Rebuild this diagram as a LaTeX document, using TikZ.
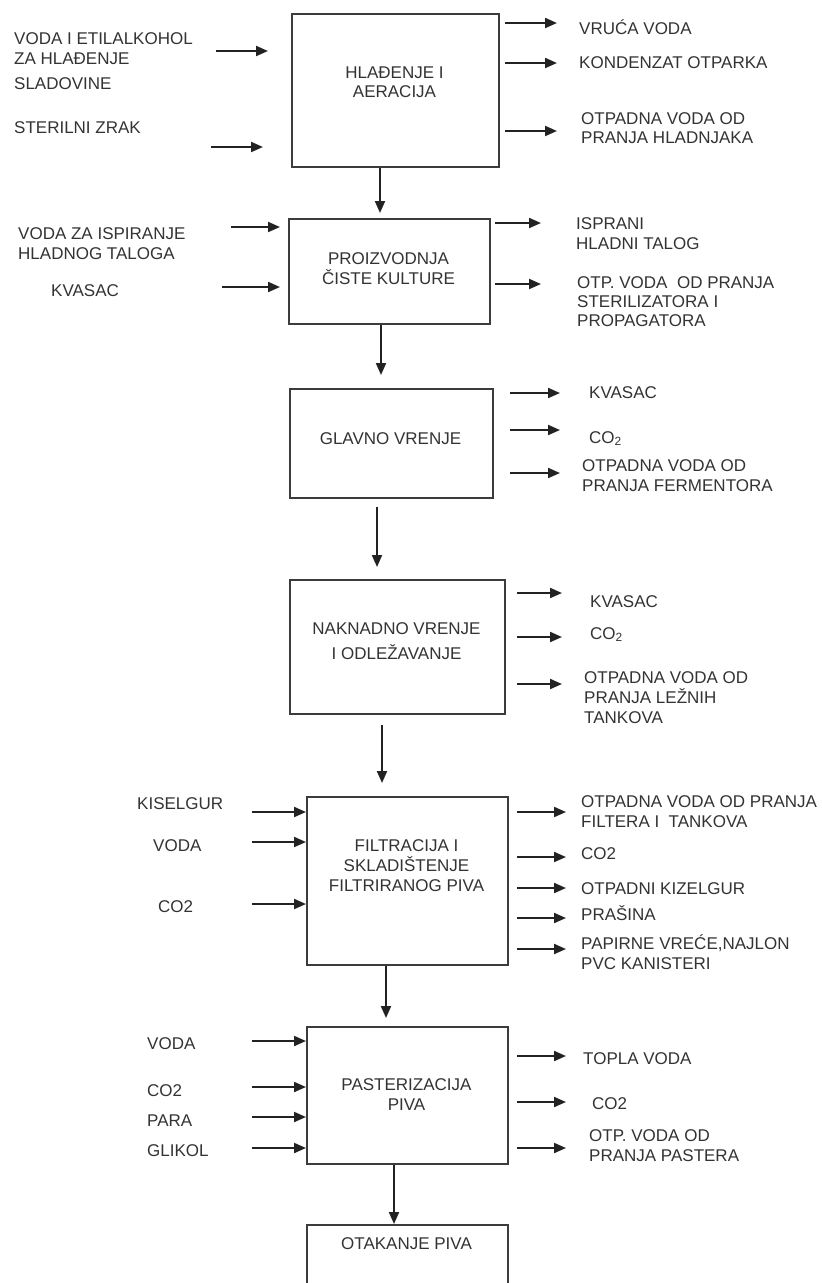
\documentclass[tikz,border=0pt]{standalone}
\usepackage{fontspec}
\setmainfont{Liberation Sans}
\usetikzlibrary{arrows.meta}
\definecolor{ln}{HTML}{3C3C3C}
\definecolor{ar}{HTML}{222222}
\definecolor{tx}{HTML}{333333}
\begin{document}
\begin{tikzpicture}[x=1pt,y=-1pt,
  box/.style={draw=ln, line width=2.3pt, inner sep=0pt, anchor=north west},
  arr/.style={draw=ar, line width=2pt, -{Triangle[length=12pt,width=10pt]}},
  lbl/.style={anchor=base west, align=left, inner sep=0pt, text=tx, font=\fontsize{17}{20}\selectfont},
  blbl/.style={anchor=base, align=center, inner sep=0pt, text=tx, font=\fontsize{17}{20}\selectfont}]
\useasboundingbox[fill=white] (0,0) rectangle (822,1283);

% boxes
\node[box, minimum width=207pt, minimum height=153pt] (b1) at (291,13) {};
\node[box, minimum width=201pt, minimum height=105pt] (b2) at (288,218) {};
\node[box, minimum width=203pt, minimum height=109pt] (b3) at (289,388) {};
\node[box, minimum width=215pt, minimum height=134pt] (b4) at (289,579) {};
\node[box, minimum width=201pt, minimum height=168pt] (b5) at (306,796) {};
\node[box, minimum width=201pt, minimum height=137pt] (b6) at (306,1026) {};
\node[box, minimum width=201pt, minimum height=90pt] (b7) at (306,1224) {};

% box texts (base = baseline of last line)
\node[blbl] (t1) at (394.5,97) {HLAĐENJE I\\[-1pt]AERACIJA};
\node[blbl] (t2) at (388.5,284) {PROIZVODNJA\\ČISTE KULTURE};
\node[blbl] (t3) at (390.5,444) {GLAVNO VRENJE};
\node[blbl] (t4) at (396.5,659) {NAKNADNO VRENJE\\[5pt]I ODLEŽAVANJE};
\node[blbl] (t5) at (406.5,891) {FILTRACIJA I\\SKLADIŠTENJE\\FILTRIRANOG PIVA};
\node[blbl] (t6) at (406.5,1110) {PASTERIZACIJA\\PIVA};
\node[blbl] (t7) at (406.5,1249) {OTAKANJE PIVA};

% left labels
\node[lbl] (l1) at (14,89) {VODA I ETILALKOHOL\\ZA HLAĐENJE\\[5pt]SLADOVINE};
\node[lbl] (l2) at (14,133) {STERILNI ZRAK};
\node[lbl] (l3) at (18,259) {VODA ZA ISPIRANJE\\HLADNOG TALOGA};
\node[lbl] (l4) at (51,296) {KVASAC};
\node[lbl] (l5) at (137,809) {KISELGUR};
\node[lbl] (l6) at (153,851) {VODA};
\node[lbl] (l7) at (158,912) {CO2};
\node[lbl] (l8) at (147,1049) {VODA};
\node[lbl] (l9) at (147,1096) {CO2};
\node[lbl] (l10) at (147,1126) {PARA};
\node[lbl] (l11) at (147,1156) {GLIKOL};

% right labels
\node[lbl] (r1) at (579,34) {VRUĆA VODA};
\node[lbl] (r2) at (579,68) {KONDENZAT OTPARKA};
\node[lbl] (r3) at (581,143) {OTPADNA VODA OD\\[-1pt]PRANJA HLADNJAKA};
\node[lbl] (r4) at (576,249) {ISPRANI\\HLADNI TALOG};
\node[lbl] (r5) at (577,326) {OTP. VODA\ \ OD PRANJA\\[-1pt]STERILIZATORA I\\[-1pt]PROPAGATORA};
\node[lbl] (r6) at (589,398) {KVASAC};
\node[lbl] (r7) at (589,443) {CO\textsubscript{2}};
\node[lbl] (r8) at (582,491) {OTPADNA VODA OD\\PRANJA FERMENTORA};
\node[lbl] (r9) at (590,607) {KVASAC};
\node[lbl] (r10) at (590,639) {CO\textsubscript{2}};
\node[lbl] (r11) at (584,723) {OTPADNA VODA OD\\PRANJA LEŽNIH\\TANKOVA};
\node[lbl] (r12) at (581,827) {OTPADNA VODA OD PRANJA\\FILTERA I\ \ TANKOVA};
\node[lbl] (r13) at (581,859) {CO2};
\node[lbl] (r14) at (581,894) {OTPADNI KIZELGUR};
\node[lbl] (r15) at (581,920) {PRAŠINA};
\node[lbl] (r16) at (581,969) {PAPIRNE VREĆE,NAJLON\\PVC KANISTERI};
\node[lbl] (r17) at (583,1064) {TOPLA VODA};
\node[lbl] (r18) at (592,1109) {CO2};
\node[lbl] (r19) at (589,1161) {OTP. VODA OD\\PRANJA PASTERA};

% input arrows
\coordinate (i1a) at (216,51);  \draw[arr, shorten >=23pt] (i1a) -- (i1a -| b1.west);
\coordinate (i1b) at (211,147); \draw[arr, shorten >=28pt] (i1b) -- (i1b -| b1.west);
\coordinate (i2a) at (231,227); \draw[arr, shorten >=8pt] (i2a) -- (i2a -| b2.west);
\coordinate (i2b) at (222,287); \draw[arr, shorten >=8pt] (i2b) -- (i2b -| b2.west);
\foreach \y [count=\k] in {812,842,904}{
  \coordinate (i5\k) at (252,\y); \draw[arr] (i5\k) -- (i5\k -| b5.west);}
\foreach \y [count=\k] in {1041,1087,1117,1148}{
  \coordinate (i6\k) at (252,\y); \draw[arr] (i6\k) -- (i6\k -| b6.west);}

% output arrows
\foreach \y [count=\k] in {23,63,131}{
  \coordinate (o1\k) at (557,\y); \draw[arr, shorten <=5pt] (o1\k -| b1.east) -- (o1\k);}
\foreach \y [count=\k] in {223,284}{
  \coordinate (o2\k) at (541,\y); \draw[arr, shorten <=4pt] (o2\k -| b2.east) -- (o2\k);}
\foreach \y [count=\k] in {393,430,473}{
  \coordinate (o3\k) at (560,\y); \draw[arr, shorten <=16pt] (o3\k -| b3.east) -- (o3\k);}
\foreach \y [count=\k] in {593,637,684}{
  \coordinate (o4\k) at (562,\y); \draw[arr, shorten <=11pt] (o4\k -| b4.east) -- (o4\k);}
\foreach \y [count=\k] in {812,857,888,918,949}{
  \coordinate (o5\k) at (566,\y); \draw[arr, shorten <=8pt] (o5\k -| b5.east) -- (o5\k);}
\foreach \y [count=\k] in {1056,1102,1148}{
  \coordinate (o6\k) at (566,\y); \draw[arr, shorten <=8pt] (o6\k -| b6.east) -- (o6\k);}

% vertical arrows
\coordinate (v12) at (380,0); \draw[arr, shorten >=5pt] (v12 |- b1.south) -- (v12 |- b2.north);
\coordinate (v23) at (381,0); \draw[arr, shorten >=13pt] (v23 |- b2.south) -- (v23 |- b3.north);
\coordinate (v34) at (377,0); \draw[arr, shorten <=8pt, shorten >=12pt] (v34 |- b3.south) -- (v34 |- b4.north);
\coordinate (v45) at (382,0); \draw[arr, shorten <=10pt, shorten >=13pt] (v45 |- b4.south) -- (v45 |- b5.north);
\coordinate (v56) at (386,0); \draw[arr, shorten >=8pt] (v56 |- b5.south) -- (v56 |- b6.north);
\coordinate (v67) at (394,0); \draw[arr] (v67 |- b6.south) -- (v67 |- b7.north);
\end{tikzpicture}
\end{document}
